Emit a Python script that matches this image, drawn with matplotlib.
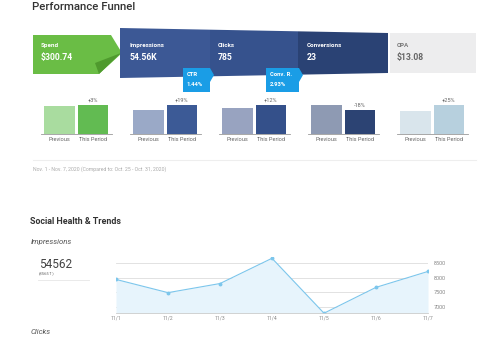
import matplotlib.pyplot as plt
from matplotlib.patches import Polygon

plt.rcParams['font.family'] = ['Roboto', 'DejaVu Sans']

# funnel values (this period / previous period)
stages = ['Spend', 'Impressions', 'Clicks', 'Conversions', 'CPA']
spend = [291.98, 300.74]
impressions = [45997, 54562]
clicks = [701, 785]
conversions = [28, 23]
cpa = [10.46, 13.08]
bar_labels = ['Previous', 'This Period']

# daily impressions for the trend chart
days = ['11/1', '11/2', '11/3', '11/4', '11/5', '11/6', '11/7']
daily_impressions = [7940, 7490, 7800, 8660, 6790, 7670, 8212]
y_ticks = [7000, 7500, 8000, 8500]

W, H = 500, 350
fig = plt.figure(figsize=(W / 100, H / 100), dpi=100)

# overlay axes in pixel coords for the dashboard pieces
ax = fig.add_axes([0, 0, 1, 1])
ax.set_xlim(0, W)
ax.set_ylim(H, 0)
ax.axis('off')

ax.text(32, 7, 'Performance Funnel', fontsize=8.2, fontweight='medium',
        color='#333333', va='center')

# spend arrow
green = Polygon([(33, 35), (111, 35), (122, 53), (99, 74), (33, 74)],
                closed=True, fc='#6abd45', ec='none')
ax.add_patch(green)
fold = Polygon([(121, 53), (99, 74), (95, 63)], closed=True, fc='#4f9a2e', ec='none')
ax.add_patch(fold)


def top_y(x):
    return 28 + (x - 120) * 5 / 268


def bot_y(x):
    return 78 - (x - 120) * 5 / 268


# funnel body
edges = [120, 210, 298, 388]
funnel_cols = ['#3c5895', '#36528d', '#2a4274']
for i in range(3):
    x0, x1 = edges[i], edges[i + 1]
    ax.add_patch(Polygon([(x0, top_y(x0)), (x1, top_y(x1)), (x1, bot_y(x1)), (x0, bot_y(x0))],
                         closed=True, fc=funnel_cols[i], ec='none'))

# CPA box
ax.add_patch(Polygon([(390, 33), (476, 33), (476, 73), (390, 73)], closed=True,
                     fc='#ededee', ec='none'))

values_txt = ['$%.2f' % spend[1], '%.2fK' % (impressions[1] / 1000),
              '%d' % clicks[1], '%d' % conversions[1],
              '$%.2f' % (spend[1] / conversions[1])]
text_x = [41, 130, 218, 307, 397]
for i, name in enumerate(stages):
    col = 'white' if i < 4 else '#777777'
    vcol = 'white' if i < 4 else '#666666'
    ax.text(text_x[i], 45.5, name, fontsize=4.5, fontweight='bold', color=col, va='center')
    ax.text(text_x[i], 57.5, values_txt[i], fontsize=6.2, fontweight='bold', color=vcol, va='center')

# rate callouts
ctr = clicks[1] / impressions[1] * 100
conv_rate = conversions[1] / clicks[1] * 100
for x0, x1, name, val in [(183, 210, 'CTR', ctr), (266, 299, 'Conv. R.', conv_rate)]:
    ax.add_patch(Polygon([(x0, 68), (x1, 68), (x1 + 4, 75), (x1, 82), (x1, 92), (x0, 92)],
                         closed=True, fc='#1a9de6', ec='none'))
    ax.text(x0 + 3.5, 74.5, name, fontsize=4.2, fontweight='bold', color='white', va='center')
    ax.text(x0 + 3.5, 85, '%.2f%%' % val, fontsize=4.2, fontweight='bold', color='white', va='center')

# previous vs this period mini bars
series = [spend, impressions, clicks, conversions, cpa]
bar_cols = [('#a9dc9f', '#62bb52'), ('#9aa9c7', '#3c5a96'), ('#98a3c0', '#34508a'),
            ('#8e9ab3', '#2c4373'), ('#d9e5ec', '#b7d0de')]
for i, vals in enumerate(series):
    left = 41 + 89 * i
    bax = fig.add_axes([left / W, (H - 134) / H, 71 / W, 36 / H])
    bax.bar([0, 1], vals, width=0.92, color=bar_cols[i])
    bax.set_xlim(-0.55, 1.57)
    bax.set_ylim(0, max(vals) * 1.24)
    bax.set_xticks([0, 1], bar_labels)
    bax.tick_params(axis='x', length=0, labelsize=4.1, labelcolor='#666666', pad=2)
    bax.set_yticks([])
    for s in ['top', 'right', 'left']:
        bax.spines[s].set_visible(False)
    bax.spines['bottom'].set_color('#999999')
    bax.spines['bottom'].set_linewidth(0.6)
    bax.patch.set_alpha(0)
    pct = (vals[1] / vals[0] - 1) * 100
    bax.annotate('%+d%%' % round(pct), (1, vals[1]), xytext=(0, 1.5),
                 textcoords='offset points', ha='center', va='bottom',
                 fontsize=4.1, color='#666666')

ax.plot([33, 476], [160, 160], color='#eeeeee', lw=0.8)
ax.text(33, 169, 'Nov. 1 - Nov. 7, 2020 (Compared to: Oct. 25 - Oct. 31, 2020)',
        fontsize=3.7, color='#aaaaaa', va='center')

ax.text(30, 221, 'Social Health & Trends', fontsize=6.4, fontweight='bold',
        color='#333333', va='center')
ax.text(31, 242, 'Impressions', fontsize=5.6, style='italic', color='#555555', va='center')
ax.text(39, 264, str(sum(daily_impressions)), fontsize=8.5, color='#444444', va='center')
ax.text(39, 273, '(%d\u2191)' % (impressions[1] - impressions[0]), fontsize=3,
        color='#666666', va='center', family=['Roboto', 'DejaVu Sans'])
ax.plot([38, 89], [280, 280], color='#e6e6e6', lw=0.6)
ax.text(31, 332, 'Clicks', fontsize=5.6, style='italic', color='#555555', va='center')

# impressions trend
lax = fig.add_axes([116 / W, (H - 313.2) / H, 312 / W, 56.1 / H])
xs = list(range(len(days)))
lax.fill_between(xs, daily_impressions, 6790, color='#e7f4fc', lw=0)
lax.plot(xs, daily_impressions, color='#7cc6ec', lw=0.8, marker='o', ms=1.8)
lax.set_xlim(0, len(days) - 1)
lax.set_ylim(6790, 8700)
lax.set_xticks(xs, days)
lax.set_yticks(y_ticks)
lax.yaxis.tick_right()
lax.grid(axis='y', color='#dddddd', lw=0.6)
lax.set_axisbelow(True)
lax.tick_params(axis='x', length=0, labelsize=3.6, labelcolor='#888888', pad=2)
lax.tick_params(axis='y', length=0, labelsize=4, labelcolor='#888888', pad=4)
for s in ['top', 'right', 'left']:
    lax.spines[s].set_visible(False)
lax.spines['bottom'].set_color('#cccccc')
lax.spines['bottom'].set_linewidth(0.6)
lax.patch.set_alpha(0)

fig.savefig('out.png', dpi=100)
